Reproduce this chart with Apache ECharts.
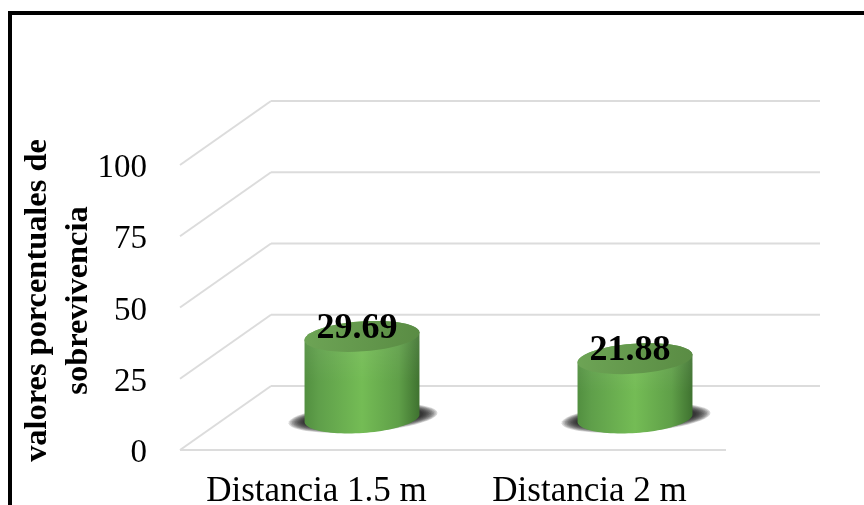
<!DOCTYPE html>
<html>
<head>
<meta charset="utf-8">
<style>html,body{margin:0;padding:0;background:#fff}#c{width:864px;height:505px}</style>
<script src="https://cdn.jsdelivr.net/npm/echarts@6/dist/echarts.min.js"></script>
</head>
<body>
<div id="c"></div>
<script>
var categories = ['Distancia 1.5 m', 'Distancia 2 m'];
var values = [29.69, 21.88];
var valueLabels = ['29.69', '21.88'];
var ticks = [0, 25, 50, 75, 100];
var axisTitle = 'valores porcentuales de\nsobrevivencia';

var SERIF = '"Liberation Serif","Times New Roman",serif';
var DX = 91, DY = 64, BACK_EXTRA = 3;
var GRID = '#dcdcdc';

function ellipsePts(cx, cy, rx, ry, from, to, tilt) {
  var pts = [], n = 48, c = Math.cos(tilt), s = Math.sin(tilt);
  for (var i = 0; i <= n; i++) {
    var t = from + (to - from) * i / n;
    var x = rx * Math.cos(t), y = ry * Math.sin(t);
    pts.push([cx + x * c + y * s, cy - x * s + y * c]);
  }
  return pts;
}

function renderWalls(params, api) {
  var v = api.value(0);
  var cs = params.coordSys;
  var y = api.coord([0, v])[1];
  var line = function (a, b, c, d) {
    return { type: 'line', shape: { x1: a, y1: b, x2: c, y2: d },
      style: { stroke: GRID, lineWidth: 2, fill: null } };
  };
  var kids = [
    line(cs.x, y, cs.x + DX, y - DY),
    line(cs.x + DX, y - DY, cs.x + cs.width + DX + BACK_EXTRA, y - DY)
  ];
  if (v === 0) {
    kids.push(line(cs.x, y, cs.x + cs.width, y));
  }
  return { type: 'group', children: kids };
}

function renderBars(params, api) {
  var i = api.value(0), v = api.value(1);
  var base = api.coord([i, 0]), top = api.coord([i, v]);
  var cx = base[0] + DX / 2, by = base[1] - DY / 2, ty = top[1] - DY / 2 + 3;
  var rx = api.size([1, 0])[0] * 0.211, ry = 15, tilt = 4 * Math.PI / 180;
  var body = ellipsePts(cx, by, rx, ry, 0, Math.PI, tilt)
    .concat(ellipsePts(cx, ty, rx, ry, Math.PI, 2 * Math.PI, tilt));
  var kids = [];
  for (var k = 0; k < 10; k++) {
    kids.push({ type: 'polygon',
      shape: { points: ellipsePts(cx + 1, by, rx + 17 - k * 1.6, ry - 1 - k * 0.6, 0, 2 * Math.PI, tilt) },
      style: { fill: 'rgba(20,20,20,0.17)' } });
  }
  kids.push(
    { type: 'polygon', shape: { points: body },
      style: { fill: { type: 'linear', x: 0, y: 0, x2: 1, y2: 0, colorStops: [
        { offset: 0, color: '#528f40' },
        { offset: 0.12, color: '#5f9f4a' },
        { offset: 0.5, color: '#74bc55' },
        { offset: 0.82, color: '#5f9f48' },
        { offset: 1, color: '#3f7230' }] } } },
    { type: 'polygon', shape: { points: body },
      style: { fill: { type: 'linear', x: 0, y: 0, x2: 0, y2: 1, colorStops: [
        { offset: 0, color: 'rgba(255,255,255,0.10)' },
        { offset: 0.55, color: 'rgba(255,255,255,0)' }] } } },
    { type: 'polygon', shape: { points: ellipsePts(cx, ty, rx, ry, 0, 2 * Math.PI, tilt) },
      style: { fill: { type: 'linear', x: 0, y: 0, x2: 1, y2: 0.3, colorStops: [
        { offset: 0, color: '#6da455' },
        { offset: 1, color: '#5a8c44' }] } } },
    { type: 'text', x: cx - 5, y: ty - 8,
      style: { text: valueLabels[i], font: 'bold 36px ' + SERIF, fill: '#000',
        align: 'center', verticalAlign: 'middle' } }
  );
  return { type: 'group', children: kids };
}

var chart = echarts.init(document.getElementById('c'), null, { renderer: 'canvas' });
chart.setOption({
  animation: false,
  backgroundColor: '#fff',
  grid: { left: 180, top: 165, width: 546, height: 285, containLabel: false, outerBoundsMode: 'none' },
  xAxis: { type: 'category', data: categories,
    axisLine: { show: false }, axisTick: { show: false }, splitLine: { show: false },
    axisLabel: { color: '#000', fontFamily: SERIF, fontSize: 35, margin: 24, interval: 0, hideOverlap: false } },
  yAxis: { type: 'value', min: 0, max: 100, interval: 25,
    name: axisTitle, nameLocation: 'middle', nameRotate: 90, nameGap: 81, nameMoveOverlap: false,
    nameTextStyle: { color: '#000', fontFamily: SERIF, fontWeight: 'bold', fontSize: 32.4, lineHeight: 41, padding: [0, 0, 0, 14] },
    axisLine: { show: false }, axisTick: { show: false }, splitLine: { show: false },
    axisLabel: { color: '#000', fontFamily: SERIF, margin: 33, formatter: '{t|{value}}',
      rich: { t: { color: '#000', fontFamily: SERIF, fontSize: 33, padding: [7, 0, 0, 0] } } } },
  graphic: [
    { type: 'rect', shape: { x: 8, y: 11, width: 856, height: 4 }, style: { fill: '#000' }, silent: true },
    { type: 'rect', shape: { x: 8, y: 11, width: 4, height: 494 }, style: { fill: '#000' }, silent: true }
  ],
  series: [
    { type: 'custom', coordinateSystem: 'cartesian2d', clip: false, silent: true, z: 1,
      encode: { y: 0 }, data: ticks.map(function (t) { return [t]; }), renderItem: renderWalls },
    { type: 'custom', coordinateSystem: 'cartesian2d', clip: false, silent: true, z: 2,
      encode: { x: 0, y: 1 }, data: values.map(function (v, i) { return [i, v]; }), renderItem: renderBars }
  ]
});
</script>
</body>
</html>
